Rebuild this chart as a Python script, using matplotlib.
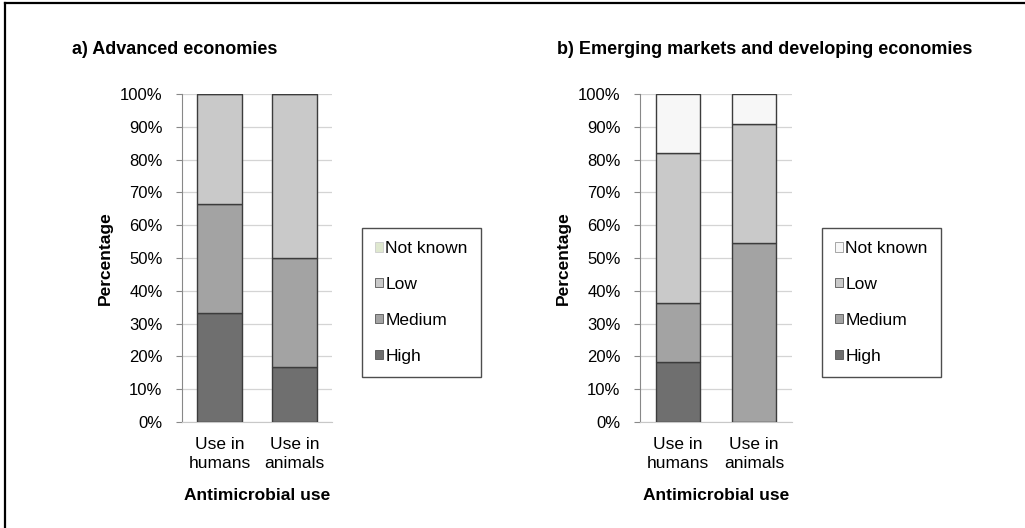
import numpy as np
import matplotlib
matplotlib.use('Agg')
import matplotlib.pyplot as plt
from matplotlib.lines import Line2D
from matplotlib.patches import Patch

plt.rcParams['font.family'] = ['Liberation Sans', 'DejaVu Sans']

# Datos
categorias = ['Use in\nhumans', 'Use in\nanimals']
niveles = ['High', 'Medium', 'Low', 'Not known']

adv_high = [33.3, 16.7]
adv_medium = [33.3, 33.3]
adv_low = [33.4, 50.0]
adv_notknown = [0.0, 0.0]

eme_high = [18.2, 0.0]
eme_medium = [18.2, 54.5]
eme_low = [45.5, 36.4]
eme_notknown = [18.1, 9.1]

colores = {'High': '#6f6f6f', 'Medium': '#a3a3a3', 'Low': '#c9c9c9', 'Not known': '#f7f7f7'}
borde = '#3c3c3c'

fig = plt.figure(figsize=(10.25, 5.28), dpi=100)

# Marco exterior (solo arriba e izquierda)
fig.add_artist(Line2D([0.005, 0.005], [0.0, 0.994], transform=fig.transFigure, color='black', lw=1.6))
fig.add_artist(Line2D([0.005, 1.0], [0.994, 0.994], transform=fig.transFigure, color='black', lw=1.6))


def dibujar_panel(ax, series, titulo, titulo_x, alineacion):
    x = np.arange(len(categorias))
    base = np.zeros(len(categorias))
    for nivel, valores in zip(niveles, series):
        ax.bar(x, valores, bottom=base, width=0.59, color=colores[nivel],
               edgecolor=borde, linewidth=1.0, zorder=3)
        base = base + np.array(valores)
    ax.set_xlim(-0.5, 1.5)
    ax.set_ylim(0, 100)
    ax.set_yticks(np.arange(0, 101, 10))
    ax.set_yticklabels([f'{v}%' for v in range(0, 101, 10)], fontsize=12)
    ax.set_xticks(x)
    ax.set_xticklabels(categorias, fontsize=12.5, linespacing=1.3)
    ax.tick_params(axis='x', length=0, pad=11)
    ax.tick_params(axis='y', length=4, pad=10, color='#888888')
    ax.grid(axis='y', color='#d4d4d4', lw=0.9, zorder=0)
    for s in ['top', 'right']:
        ax.spines[s].set_visible(False)
    ax.spines['left'].set_color('#888888')
    ax.spines['bottom'].set_color('#c8c8c8')
    ax.set_ylabel('Percentage', fontsize=12.5, fontweight='bold', labelpad=5)
    ax.set_xlabel('Antimicrobial use', fontsize=12.5, fontweight='bold', labelpad=12)
    fig.text(titulo_x, 1 - 50 / 528, titulo, fontsize=13, fontweight='bold',
             va='center', ha=alineacion)


ax1 = fig.add_axes([0.1776, 0.2008, 0.1463, 0.6212])
dibujar_panel(ax1, [adv_high, adv_medium, adv_low, adv_notknown],
              'a) Advanced economies', 72 / 1025, 'left')

ax2 = fig.add_axes([0.6244, 0.2008, 0.1483, 0.6212])
dibujar_panel(ax2, [eme_high, eme_medium, eme_low, eme_notknown],
              'b) Emerging markets and developing economies', 972 / 1025, 'right')


def leyenda(bbox, color_nk):
    handles = [Patch(facecolor=color_nk, edgecolor='#cccccc' if color_nk != '#f7f7f7' else '#999999', lw=0.6)]
    for nivel in ['Low', 'Medium', 'High']:
        handles.append(Patch(facecolor=colores[nivel], edgecolor='#555555', lw=0.6))
    leg = fig.legend(handles, ['Not known', 'Low', 'Medium', 'High'], loc='upper left',
                     bbox_to_anchor=bbox, bbox_transform=fig.transFigure, fontsize=12.5,
                     handlelength=0.45, handleheight=0.45, handletextpad=0.15,
                     labelspacing=1.2, borderpad=0.75, frameon=True, fancybox=False,
                     edgecolor='#222222', borderaxespad=0)
    leg.get_frame().set_linewidth(1.0)
    return leg


leyenda((362 / 1025, 1 - 228 / 528), '#dfe8cf')
leyenda((822 / 1025, 1 - 228 / 528), '#f7f7f7')

fig.savefig('out.png', dpi=100)
